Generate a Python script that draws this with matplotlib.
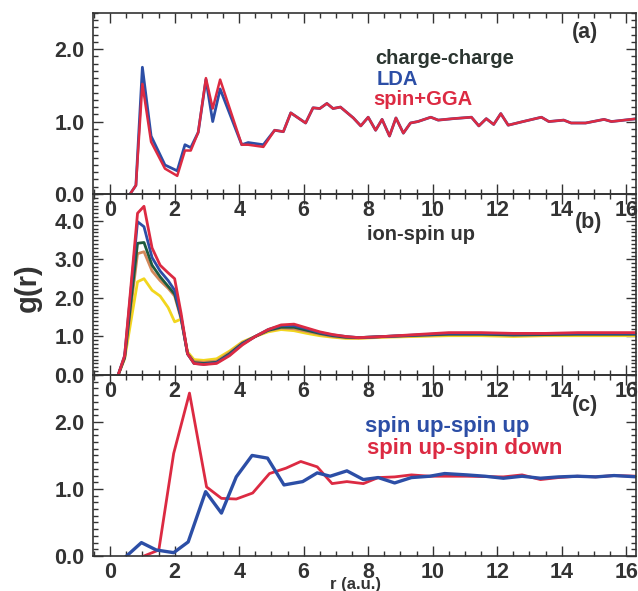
import matplotlib
matplotlib.use("Agg")
import matplotlib.pyplot as plt
from matplotlib.ticker import MultipleLocator

plt.rcParams["font.family"] = ["Liberation Sans", "DejaVu Sans"]
plt.rcParams["font.weight"] = "bold"

# ---- panel (a): charge-charge ----
r_a = [0.62, 0.8, 1.0, 1.27, 1.7, 2.08, 2.32, 2.5, 2.73, 2.97, 3.18, 3.41, 4.08, 4.28,
       4.75, 5.1, 5.37, 5.6, 6.06, 6.29, 6.5, 6.72, 6.91, 7.14, 7.54, 7.77, 8.0, 8.23,
       8.43, 8.66, 8.86, 9.09, 9.31, 9.54, 9.94, 10.17, 10.63, 11.2, 11.43, 11.66, 11.89,
       12.11, 12.34, 12.8, 13.37, 13.6, 14.06, 14.29, 14.74, 15.31, 15.54, 16.34]
g_lda = [0.0, 0.12, 1.75, 0.8, 0.4, 0.32, 0.68, 0.64, 0.85, 1.58, 1.0, 1.45, 0.68, 0.71,
         0.68, 0.88, 0.86, 1.12, 0.98, 1.19, 1.18, 1.25, 1.18, 1.2, 1.05, 0.94, 1.06, 0.88,
         1.03, 0.8, 1.05, 0.84, 0.98, 1.0, 1.06, 1.02, 1.04, 1.06, 0.94, 1.04, 0.96,
         1.11, 0.95, 1.0, 1.06, 1.0, 1.02, 0.98, 0.98, 1.03, 1.0, 1.04]
g_gga = [0.0, 0.12, 1.52, 0.72, 0.35, 0.25, 0.6, 0.6, 0.85, 1.6, 1.18, 1.58, 0.68, 0.68,
         0.65, 0.88, 0.86, 1.12, 0.98, 1.19, 1.18, 1.25, 1.18, 1.2, 1.05, 0.94, 1.06, 0.88,
         1.03, 0.8, 1.05, 0.84, 0.98, 1.0, 1.06, 1.02, 1.04, 1.06, 0.94, 1.04, 0.96,
         1.11, 0.95, 1.0, 1.06, 1.0, 1.02, 0.98, 0.98, 1.03, 1.0, 1.04]

# ---- panel (b): ion-spin up ----
r_b = [0.25, 0.45, 0.85, 1.05, 1.3, 1.55, 1.8, 2.0, 2.2, 2.4, 2.6, 2.9, 3.3, 3.7, 4.1,
       4.5, 4.9, 5.3, 5.7, 6.1, 6.5, 6.9, 7.3, 7.7, 8.5, 9.5, 10.5, 11.5, 12.5, 13.5,
       14.5, 15.5, 16.3]
g_b_red = [0.0, 0.5, 4.2, 4.38, 3.3, 2.85, 2.65, 2.5, 1.6, 0.55, 0.3, 0.27, 0.3, 0.5,
           0.78, 1.0, 1.18, 1.3, 1.32, 1.22, 1.12, 1.05, 1.0, 0.97, 1.0, 1.05, 1.1, 1.1,
           1.08, 1.08, 1.1, 1.1, 1.1]
g_b_blue = [0.0, 0.5, 3.98, 3.85, 3.05, 2.7, 2.45, 2.2, 1.5, 0.55, 0.3, 0.28, 0.32, 0.52,
            0.8, 1.0, 1.18, 1.28, 1.28, 1.2, 1.1, 1.04, 1.0, 0.97, 1.0, 1.04, 1.08, 1.08,
            1.06, 1.07, 1.08, 1.08, 1.08]
g_b_green = [0.0, 0.45, 3.42, 3.44, 2.85, 2.55, 2.3, 2.1, 1.5, 0.55, 0.32, 0.3, 0.33, 0.55,
             0.82, 1.0, 1.16, 1.24, 1.24, 1.16, 1.08, 1.02, 0.98, 0.97, 1.0, 1.03, 1.06,
             1.06, 1.04, 1.05, 1.06, 1.06, 1.06]
g_b_orange = [0.0, 0.45, 3.15, 3.2, 2.7, 2.45, 2.25, 2.05, 1.45, 0.55, 0.35, 0.33, 0.36,
              0.58, 0.84, 1.0, 1.15, 1.22, 1.2, 1.13, 1.06, 1.0, 0.97, 0.96, 0.99, 1.02,
              1.05, 1.05, 1.03, 1.04, 1.05, 1.05, 1.05]
g_b_yellow = [0.0, 0.42, 2.42, 2.5, 2.2, 2.05, 1.75, 1.38, 1.45, 0.6, 0.4, 0.38, 0.42,
              0.62, 0.86, 1.0, 1.12, 1.18, 1.15, 1.08, 1.02, 0.98, 0.95, 0.95, 0.98, 1.0,
              1.02, 1.02, 1.0, 1.02, 1.02, 1.02, 1.02]

# ---- panel (c): spin-spin ----
r_up = [0.51, 0.97, 1.43, 1.97, 2.42, 2.96, 3.45, 3.91, 4.4, 4.88, 5.39, 5.97, 6.42,
        6.82, 7.34, 7.85, 8.31, 8.82, 9.34, 9.91, 10.37, 11.05, 11.62, 12.19, 12.77,
        13.34, 13.9, 14.48, 15.05, 15.62, 16.37]
g_up = [0.0, 0.2, 0.09, 0.05, 0.21, 0.96, 0.64, 1.18, 1.5, 1.46, 1.06, 1.11, 1.24,
        1.19, 1.27, 1.14, 1.17, 1.09, 1.17, 1.19, 1.23, 1.21, 1.19, 1.16, 1.19,
        1.16, 1.18, 1.19, 1.18, 1.2, 1.18]
r_down = [1.05, 1.51, 1.97, 2.46, 2.99, 3.45, 3.91, 4.42, 4.94, 5.45, 5.91, 6.42, 6.88,
          7.34, 7.85, 8.31, 8.82, 9.34, 9.91, 11.05, 12.19, 12.77, 13.34, 13.9, 14.48,
          15.05, 15.62, 16.37]
g_down = [0.0, 0.09, 1.53, 2.43, 1.03, 0.86, 0.85, 0.94, 1.23, 1.31, 1.41, 1.33, 1.08,
          1.11, 1.08, 1.17, 1.18, 1.21, 1.19, 1.19, 1.18, 1.21, 1.14, 1.17, 1.19,
          1.18, 1.2, 1.19]

x_ticks = [0, 2, 4, 6, 8, 10, 12, 14, 16]
y_ticks = [[0.0, 1.0, 2.0], [0.0, 1.0, 2.0, 3.0, 4.0], [0.0, 1.0, 2.0]]

RED = "#dc2a42"
BLUE = "#2c4ea6"
TXT = "#333333"
FS = 15.5
FT = 14.5

fig = plt.figure(figsize=(6.38, 5.91), dpi=100)
left, width, h = 0.1458, 0.851, 0.3063
bottoms = [0.6718, 0.3655, 0.0592]
ylims = [(0, 2.5), (0, 4.7), (0, 2.7)]

axes = []
for b, yl, yt in zip(bottoms, ylims, y_ticks):
    ax = fig.add_axes([left, b, width, h])
    ax.set_facecolor("none")
    ax.set_xticks(x_ticks)
    ax.set_xticklabels([str(v) for v in x_ticks], fontweight="bold", color=TXT)
    ax.set_yticks(yt)
    ax.set_yticklabels([f"{v:.1f}" for v in yt], fontweight="bold", color=TXT)
    ax.xaxis.set_minor_locator(MultipleLocator(0.5))
    ax.yaxis.set_minor_locator(MultipleLocator(0.1))
    ax.set_xlim(-0.53, 16.3)
    ax.set_ylim(*yl)
    ax.tick_params(which="both", direction="in", top=True, right=True,
                   colors=TXT, width=1.0)
    ax.tick_params(which="major", length=7, labelsize=FS, pad=6)
    ax.tick_params(axis="x", which="major", pad=4)
    ax.tick_params(which="minor", length=3.5)
    for sp in ax.spines.values():
        sp.set_color(TXT)
        sp.set_linewidth(1.2)
    axes.append(ax)

ax_a, ax_b, ax_c = axes

# (a)
ax_a.plot(r_a, g_lda, color=BLUE, lw=2.0)
ax_a.plot(r_a, g_gga, color=RED, lw=1.8)
ax_a.text(0.906, 0.89, "(a)", transform=ax_a.transAxes, ha="center", va="center",
          fontsize=FS, fontweight="bold", color=TXT)
ax_a.text(0.519, 0.75, "charge-charge", transform=ax_a.transAxes, ha="left",
          va="center", fontsize=FT, fontweight="bold", color="#2b3530")
ax_a.text(0.523, 0.635, "LDA", transform=ax_a.transAxes, ha="left", va="center",
          fontsize=FT, fontweight="bold", color=BLUE)
ax_a.text(0.516, 0.52, "spin+GGA", transform=ax_a.transAxes, ha="left", va="center",
          fontsize=FT, fontweight="bold", color=RED)

# (b)
ax_b.plot(r_b, g_b_yellow, color="#f2d61e", lw=2.0)
ax_b.plot(r_b, g_b_orange, color="#d4885a", lw=2.0)
ax_b.plot(r_b, g_b_green, color="#1d5a3c", lw=2.0)
ax_b.plot(r_b, g_b_blue, color=BLUE, lw=2.0)
ax_b.plot(r_b, g_b_red, color=RED, lw=2.0)
ax_b.text(0.913, 0.845, "(b)", transform=ax_b.transAxes, ha="center", va="center",
          fontsize=FS, fontweight="bold", color=TXT)
ax_b.text(0.504, 0.774, "ion-spin up", transform=ax_b.transAxes, ha="left",
          va="center", fontsize=FT, fontweight="bold", color=TXT)

# (c)
ax_c.plot(r_down, g_down, color=RED, lw=2.0)
ax_c.plot(r_up, g_up, color=BLUE, lw=2.4)
ax_c.text(0.906, 0.834, "(c)", transform=ax_c.transAxes, ha="center", va="center",
          fontsize=FS, fontweight="bold", color=TXT)
ax_c.text(0.501, 0.715, "spin up-spin up", transform=ax_c.transAxes, ha="left",
          va="center", fontsize=16, fontweight="bold", color=BLUE)
ax_c.text(0.505, 0.595, "spin up-spin down", transform=ax_c.transAxes, ha="left",
          va="center", fontsize=16, fontweight="bold", color=RED)

fig.text(28 / 638, 1 - 288 / 591, "g(r)", rotation=90, ha="center", va="center",
         fontsize=21, fontweight="bold", color=TXT)
fig.text(356 / 638, 1 - 585 / 591, "r (a.u.)", ha="center", va="center",
         fontsize=12, fontweight="bold", color=TXT)

fig.savefig("out.png", dpi=100)
